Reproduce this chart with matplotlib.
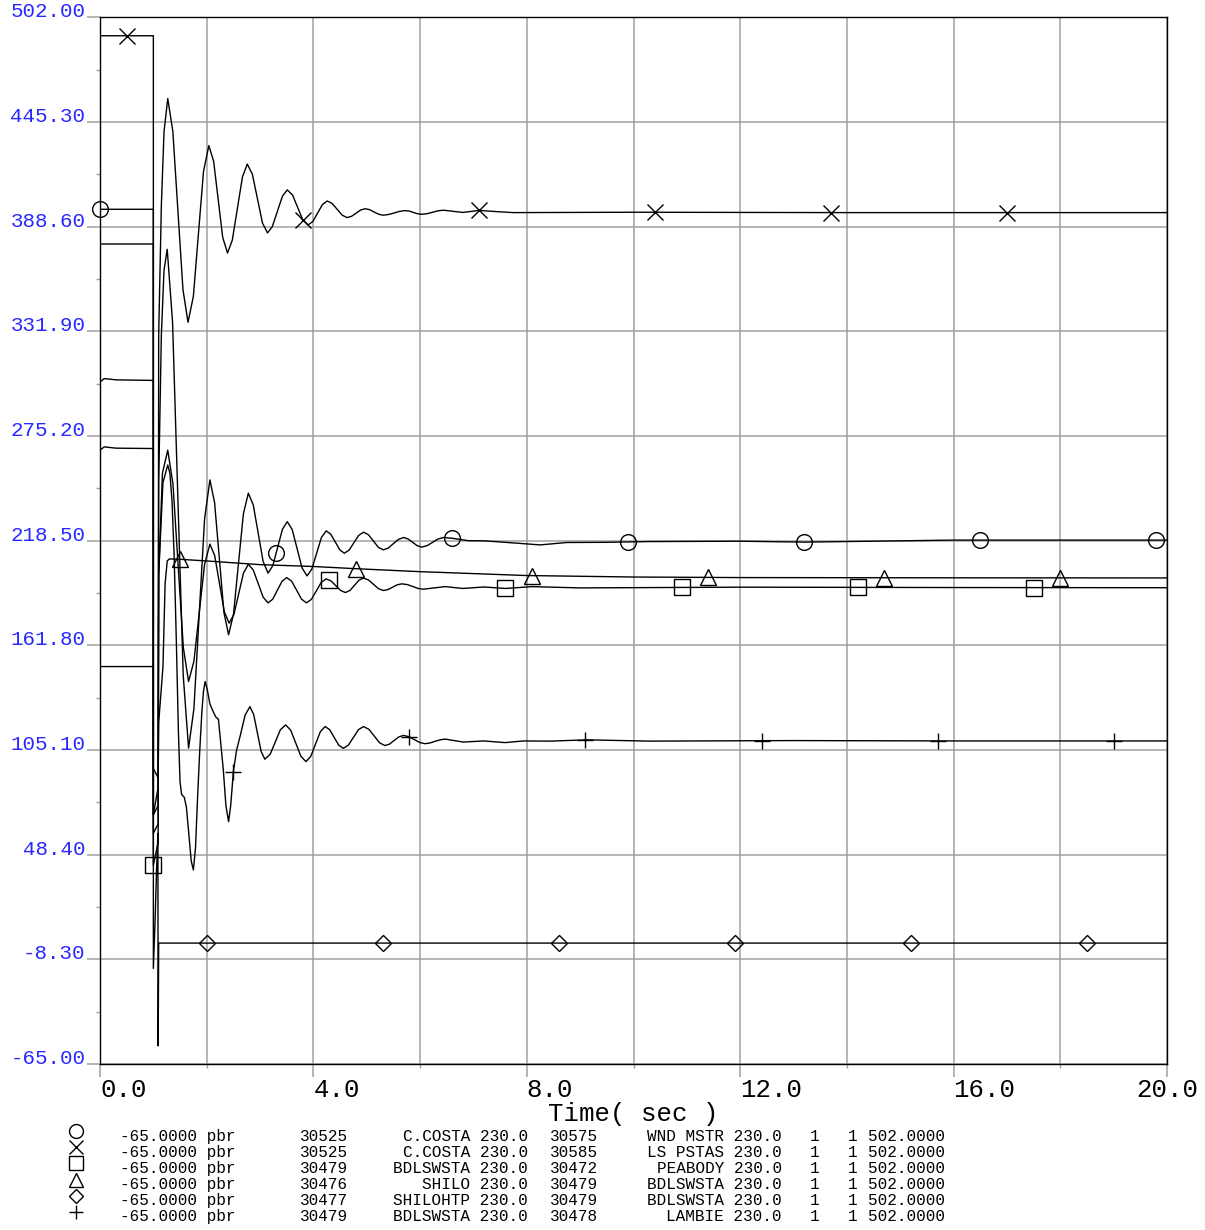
import numpy as np
import matplotlib
matplotlib.use("Agg")
import matplotlib.pyplot as plt
from matplotlib.ticker import MultipleLocator, AutoMinorLocator

plt.rcParams['font.family'] = ['Liberation Mono', 'DejaVu Sans Mono']

# --- channel data (time in s, branch flow) ---
# circle: C.COSTA -> WND MSTR
t_circle = [0.0, 1.0, 1.0, 1.09, 1.10, 1.15, 1.20, 1.26, 1.36, 1.46, 1.56, 1.66, 1.76, 1.86, 1.96, 2.06,
            2.1475, 2.235, 2.3225, 2.41, 2.5025, 2.595, 2.6875, 2.78, 2.8725, 2.965, 3.0575, 3.15,
            3.24, 3.33, 3.42, 3.51, 3.6025, 3.695, 3.7875, 3.88, 3.97, 4.06, 4.15, 4.24,
            4.325, 4.41, 4.495, 4.58, 4.67, 4.76, 4.85, 4.94, 5.0325, 5.125, 5.2175, 5.31,
            5.405, 5.50, 5.595, 5.69, 5.775, 5.86, 5.945, 6.03, 6.1325, 6.235, 6.3375, 6.44,
            6.60, 6.90, 7.20, 7.50, 8.25, 8.75, 9.50, 10.3, 12.0, 13.2, 16.0, 20.0]
p_circle = [398.0, 398.0, 70.0, 75.0, 250.0, 330.0, 365.0, 376.3, 336.9, 241.2, 145.5, 106.1, 127.3, 178.8, 230.2, 251.4,
            239.2, 209.5, 179.7, 167.5, 178.7, 205.9, 233.0, 244.2, 237.9, 222.6, 207.2, 200.9,
            205.0, 214.9, 224.7, 228.8, 224.5, 214.1, 203.7, 199.4, 203.0, 211.6, 220.2, 223.8,
            222.0, 217.8, 213.5, 211.7, 213.4, 217.4, 221.4, 223.1, 221.7, 218.3, 214.9, 213.5,
            214.5, 216.9, 219.2, 220.2, 219.4, 217.6, 215.8, 215.0, 215.8, 217.6, 219.4, 220.2,
            219.8, 218.5, 218.4, 217.8, 216.2, 217.5, 217.6, 218.0, 218.2, 217.7, 218.8, 218.8]

# x: C.COSTA -> LS PSTAS
t_x = [0.0, 1.0, 1.0, 1.09, 1.10, 1.15, 1.20, 1.27, 1.365, 1.46, 1.555, 1.65, 1.75, 1.845, 1.94, 2.04,
       2.13, 2.215, 2.30, 2.39, 2.48, 2.575, 2.67, 2.76, 2.855, 2.95, 3.045, 3.14, 3.23, 3.325, 3.42, 3.51,
       3.61, 3.705, 3.80, 3.90, 3.99, 4.08, 4.17, 4.26, 4.35, 4.445, 4.54, 4.63, 4.715, 4.80, 4.885, 4.97,
       5.055, 5.14, 5.225, 5.31, 5.41, 5.515, 5.62, 5.72, 5.80, 5.875, 5.95, 6.03, 6.13, 6.235, 6.34, 6.44,
       6.62, 6.80, 6.95, 7.10, 7.40, 7.75, 10.0, 14.0, 20.0]
p_x = [492.0, 492.0, 70.0, 85.0, 330.0, 400.0, 440.0, 458.0, 440.3, 397.4, 354.5, 336.8, 350.8, 384.7, 418.5, 432.5,
       424.0, 403.4, 382.8, 374.3, 381.3, 398.4, 415.5, 422.5, 417.1, 403.9, 390.6, 385.2, 388.6, 396.9, 405.1, 408.5,
       405.7, 399.0, 392.3, 389.5, 391.4, 396.0, 400.6, 402.5, 401.2, 398.0, 394.8, 393.5, 394.2, 395.9, 397.6, 398.3,
       397.8, 396.5, 395.3, 394.8, 395.2, 396.0, 396.9, 397.3, 397.0, 396.3, 395.6, 395.3, 395.6, 396.4, 397.2, 397.5,
       396.9, 396.3, 396.8, 397.4, 396.8, 396.2, 396.4, 396.2, 396.2]

# square: BDLSWSTA -> PEABODY
t_square = [0.0, 0.08, 0.3, 1.0, 1.0, 1.09, 1.10, 1.17, 1.27, 1.3675, 1.465, 1.5625, 1.66, 1.76, 1.86, 1.96, 2.06,
            2.15, 2.24, 2.33, 2.42, 2.51, 2.60, 2.69, 2.78, 2.8725, 2.965, 3.0575, 3.15, 3.2375, 3.325, 3.4125, 3.50,
            3.5925, 3.685, 3.7775, 3.87, 3.9625, 4.055, 4.1475, 4.24, 4.33, 4.42, 4.51, 4.60, 4.685, 4.77, 4.855, 4.94,
            5.0325, 5.125, 5.2175, 5.31, 5.3975, 5.485, 5.5725, 5.66, 5.76, 5.86, 5.96, 6.06, 6.265, 6.47,
            6.80, 7.20, 7.60, 8.10, 9.0, 12.0, 16.0, 20.0]
p_square = [304.5, 306.3, 305.6, 305.3, 42.7, 55.0, 200.0, 255.0, 267.5, 249.2, 204.9, 160.5, 142.2, 153.1, 179.4, 205.7, 216.6,
            210.4, 195.2, 180.0, 173.8, 178.5, 189.8, 201.0, 205.7, 202.6, 195.3, 187.9, 184.8, 186.8, 191.7, 196.5, 198.5,
            196.5, 191.7, 186.8, 184.8, 186.7, 191.3, 195.9, 197.8, 196.7, 194.1, 191.5, 190.4, 191.5, 194.3, 197.1, 198.2,
            197.2, 194.9, 192.5, 191.5, 192.0, 193.3, 194.6, 195.1, 194.7, 193.7, 192.6, 192.2, 192.9, 193.6,
            192.6, 193.4, 192.6, 193.6, 192.9, 193.3, 193.1, 193.0]

# triangle: SHILO -> BDLSWSTA
t_tri = [0.0, 0.08, 0.3, 1.0, 1.0, 1.09, 1.10, 1.18, 1.22, 1.26, 1.30, 1.5, 2.0, 3.0, 4.0, 4.8,
         6.0, 8.0, 10.0, 12.0, 15.0, 20.0]
p_tri = [267.5, 269.3, 268.6, 268.4, 95.0, 90.0, 120.0, 150.0, 195.0, 207.5, 208.6, 208.4, 207.5, 205.5, 204.5, 203.3,
         201.7, 199.6, 198.8, 198.5, 198.4, 198.3]

# diamond: SHILOHTP -> BDLSWSTA
t_diam = [0.0, 1.0, 1.0, 1.03, 1.06, 1.085, 1.09, 1.10, 20.0]
p_diam = [379.2, 379.2, -13.2, 10.0, 40.0, 60.0, -55.2, 0.5, 0.5]

# plus: BDLSWSTA -> LAMBIE
t_plus = [0.0, 1.0, 1.0, 1.09, 1.10, 1.18, 1.27, 1.31, 1.35, 1.39, 1.43, 1.47, 1.50, 1.53, 1.58, 1.62, 1.67,
          1.71, 1.75, 1.79, 1.83, 1.87, 1.91, 1.94, 1.97, 2.01, 2.06, 2.12, 2.17, 2.22, 2.31, 2.36, 2.41,
          2.45, 2.50, 2.56, 2.625, 2.72, 2.81, 2.88, 2.95, 3.02, 3.09, 3.19, 3.285, 3.38, 3.48, 3.575, 3.67,
          3.765, 3.86, 3.95, 4.04, 4.13, 4.22, 4.305, 4.39, 4.475, 4.56, 4.655, 4.75, 4.845, 4.94, 5.04, 5.14,
          5.24, 5.34, 5.4275, 5.515, 5.6025, 5.69, 5.79, 5.89, 5.99, 6.09, 6.185, 6.28, 6.375, 6.47, 6.64,
          6.81, 7.19, 7.59, 7.94, 8.44, 9.13, 10.3, 13.0, 16.0, 20.0]
p_plus = [150.3, 150.3, 60.0, 65.0, 200.0, 250.0, 259.5, 255.0, 240.0, 210.0, 165.0, 115.0, 88.0, 81.0, 79.5, 74.0, 58.0,
          45.0, 40.1, 52.0, 80.0, 105.0, 126.0, 137.0, 142.2, 138.0, 130.0, 126.0, 123.0, 121.7, 94.8, 75.0, 66.3,
          75.0, 93.4, 105.0, 112.4, 124.0, 128.6, 124.4, 114.4, 104.3, 100.1, 102.8, 109.4, 116.0, 118.7, 115.8, 108.8,
          101.7, 98.8, 101.6, 108.3, 115.0, 117.8, 116.1, 111.9, 107.7, 106.0, 107.7, 111.9, 116.1, 117.8, 116.3, 112.7,
          109.0, 107.5, 108.3, 110.3, 112.2, 113.0, 112.3, 110.8, 109.2, 108.5, 108.9, 109.8, 110.6, 111.0, 110.2,
          109.4, 110.0, 109.1, 110.0, 109.9, 110.6, 109.9, 110.2, 110.0, 110.0]

# legend table
leg_min = [-65.0] * 6
from_bus = [30525, 30525, 30479, 30476, 30477, 30479]
from_name = ["C.COSTA", "C.COSTA", "BDLSWSTA", "SHILO", "SHILOHTP", "BDLSWSTA"]
to_bus = [30575, 30585, 30472, 30479, 30479, 30478]
to_name = ["WND MSTR", "LS PSTAS", "PEABODY", "BDLSWSTA", "BDLSWSTA", "LAMBIE"]
base_kv = 230.0
ckt = ["1"] * 6
leg_max = [502.0] * 6

y_ticks = [-65.0, -8.3, 48.4, 105.1, 161.8, 218.5, 275.2, 331.9, 388.6, 445.3, 502.0]
x_ticks = [0.0, 4.0, 8.0, 12.0, 16.0, 20.0]

# channel -> (data, marker, first marker time)
channels = [
    (t_circle, p_circle, "o", 0.0),
    (t_x, p_x, "x", 0.5),
    (t_square, p_square, "s", 1.0),
    (t_tri, p_tri, "^", 1.5),
    (t_diam, p_diam, "D", 2.0),
    (t_plus, p_plus, "+", 2.5),
]
marker_step = 3.3

W, H = 1205, 1230
fig = plt.figure(figsize=(W / 100, H / 100), dpi=100)
ax = fig.add_axes([100 / W, (H - 1064) / H, 1067 / W, 1046.7 / H])

grid_col = "#a0a0a0"
for t, p, mk, t0 in channels:
    ax.plot(t, p, color="black", lw=1.0)
    mt = np.arange(t0, 20.001, marker_step)
    mv = np.interp(mt, t, p)
    ms = 8.0 if mk == "D" else 11.3
    ax.plot(mt, mv, ls="none", marker=mk, ms=ms, mfc="none", mec="black",
            mew=1.0, clip_on=False, zorder=3)

ax.set_xlim(0, 20)
ax.set_ylim(-65, 502)
ax.set_axisbelow(True)

ax.set_xticks(x_ticks)
ax.set_xticklabels([f"{v:.1f}" for v in x_ticks])
ax.xaxis.set_minor_locator(MultipleLocator(2))
ax.set_yticks(y_ticks)
ax.set_yticklabels([f"{v:.2f}" for v in y_ticks])
ax.yaxis.set_minor_locator(AutoMinorLocator(2))

ax.grid(True, which="major", axis="y", color=grid_col, lw=1.1)
ax.grid(True, which="both", axis="x", color=grid_col, lw=1.1)

ax.tick_params(axis="y", which="major", length=9.5, width=1.1, color=grid_col,
               labelcolor="#2828ff", labelsize=15, pad=1)
ax.tick_params(axis="y", which="minor", length=3, width=1.0, color=grid_col)
ax.tick_params(axis="x", which="major", length=9, width=1.1, color=grid_col,
               labelsize=18.5, pad=1)
ax.tick_params(axis="x", which="minor", length=3, width=1.0, color=grid_col)

for lab in ax.get_yticklabels():
    lab.set_verticalalignment("baseline")
xl = ax.get_xticklabels()
for lab in xl[:-1]:
    lab.set_horizontalalignment("left")
xl[-1].set_horizontalalignment("center")

for s in ax.spines.values():
    s.set_color("black")
    s.set_linewidth(1.0)

ax.set_xlabel("Time( sec )", fontsize=18.5, labelpad=0)

# legend block below the plot, in pixel coordinates
lg = fig.add_axes([0, 0, 1, 1])
lg.set_xlim(0, W)
lg.set_ylim(H, 0)
lg.axis("off")
lg.patch.set_alpha(0)

fs = 11.5
for i, (t, p, mk, t0) in enumerate(channels):
    ym = 1131 + 16.2 * i
    lg.plot([76], [ym], ls="none", marker=mk, ms=6.8 if mk == "D" else 10,
            mfc="none", mec="black", mew=1.0)
    yb = 1141 + 16 * i
    lg.text(120, yb, f"{leg_min[i]:.4f} pbr", fontsize=fs, va="baseline", ha="left")
    lg.text(300, yb, f"{from_bus[i]}", fontsize=fs, va="baseline", ha="left")
    lg.text(528, yb, f"{from_name[i]} {base_kv:.1f}", fontsize=fs, va="baseline", ha="right")
    lg.text(550, yb, f"{to_bus[i]}", fontsize=fs, va="baseline", ha="left")
    lg.text(782, yb, f"{to_name[i]} {base_kv:.1f}", fontsize=fs, va="baseline", ha="right")
    lg.text(810, yb, ckt[i], fontsize=fs, va="baseline", ha="left")
    lg.text(848, yb, ckt[i], fontsize=fs, va="baseline", ha="left")
    lg.text(868, yb, f"{leg_max[i]:.4f}", fontsize=fs, va="baseline", ha="left")

fig.savefig("out.png", dpi=100)
